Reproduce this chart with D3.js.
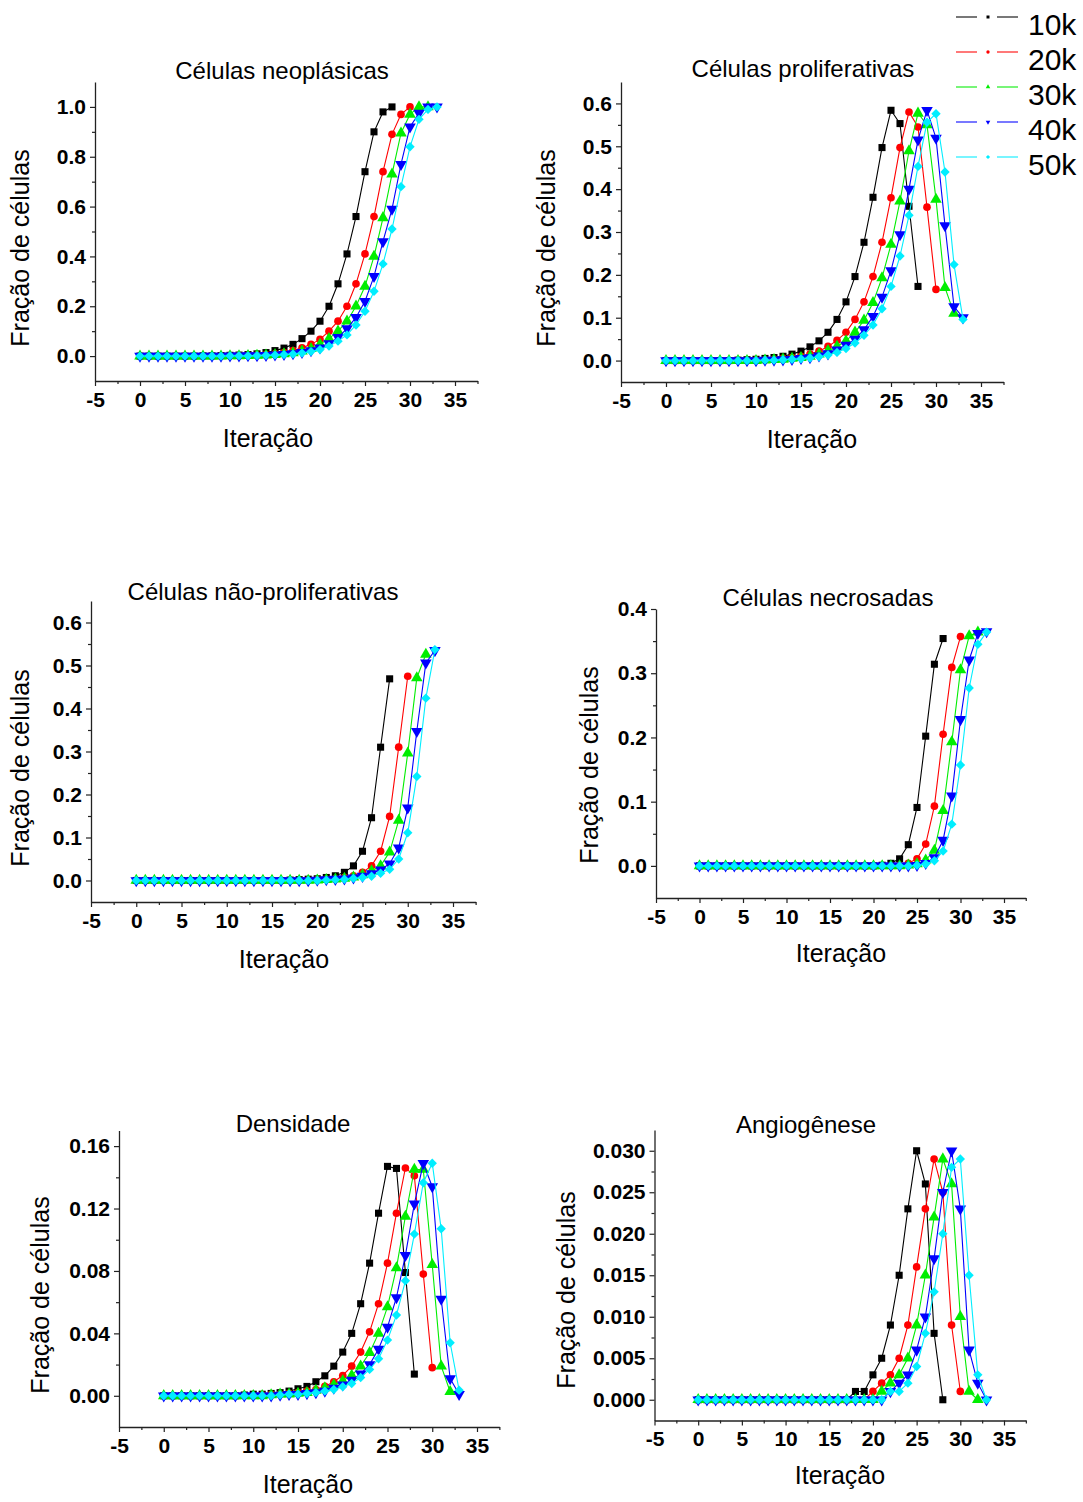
<!DOCTYPE html>
<html><head><meta charset="utf-8">
<script src="https://cdn.jsdelivr.net/npm/d3@7"></script>
<style>
body{margin:0;background:#fff}
svg{display:block}
text{font-family:"Liberation Sans",Arial,sans-serif}
</style>
</head><body>
<svg id="chart" width="1083" height="1502"></svg>
<script>
// ---------- data ----------
const seriesLabels = ["10k","20k","30k","40k","50k"];
const xTickValues = [-5,0,5,10,15,20,25,30,35];
const xMinorValues = [-2.5,2.5,7.5,12.5,17.5,22.5,27.5,32.5,37.5];

// Células neoplásicas (x = iteração 0,1,2,...)
const neo10k = [0,0,0,0,0,0,0,0.001,0.001,0.002,0.003,0.004,0.006,0.009,0.014,0.022,0.032,0.047,0.07,0.10,0.14,0.20,0.29,0.41,0.56,0.74,0.90,0.98,1.0];
const neo20k = [0,0,0,0,0,0,0,0,0,0.001,0.001,0.002,0.003,0.004,0.006,0.009,0.014,0.022,0.033,0.047,0.067,0.10,0.14,0.20,0.29,0.41,0.56,0.74,0.89,0.97,1.0];
const neo30k = [0,0,0,0,0,0,0,0,0,0,0.001,0.001,0.002,0.003,0.004,0.006,0.009,0.013,0.02,0.03,0.047,0.07,0.10,0.14,0.20,0.28,0.40,0.555,0.73,0.895,0.97,1.0,1.0];
const neo40k = [0,0,0,0,0,0,0,0,0,0,0.001,0.001,0.002,0.002,0.003,0.005,0.007,0.01,0.015,0.022,0.033,0.05,0.075,0.11,0.155,0.22,0.32,0.46,0.59,0.77,0.92,0.975,1.0,1.0];
const neo50k = [0,0,0,0,0,0,0,0,0,0,0.001,0.001,0.001,0.002,0.003,0.004,0.006,0.008,0.012,0.018,0.026,0.04,0.06,0.085,0.125,0.18,0.26,0.37,0.51,0.68,0.84,0.95,0.99,1.0];

// Células proliferativas
const pro10k = [0,0,0,0,0,0,0,0,0.001,0.002,0.003,0.005,0.007,0.010,0.015,0.022,0.032,0.046,0.066,0.096,0.137,0.196,0.276,0.381,0.497,0.584,0.553,0.36,0.173];
const pro20k = [0,0,0,0,0,0,0,0,0,0,0.001,0.002,0.003,0.005,0.007,0.010,0.015,0.022,0.033,0.047,0.066,0.096,0.137,0.196,0.276,0.38,0.497,0.58,0.545,0.358,0.166];
const pro30k = [0,0,0,0,0,0,0,0,0,0,0,0.001,0.002,0.003,0.005,0.007,0.010,0.015,0.023,0.033,0.046,0.066,0.094,0.135,0.193,0.271,0.372,0.489,0.577,0.55,0.376,0.17,0.11];
const pro40k = [0,0,0,0,0,0,0,0,0,0,0,0.001,0.001,0.002,0.003,0.005,0.007,0.011,0.016,0.025,0.036,0.05,0.072,0.103,0.148,0.21,0.294,0.40,0.515,0.584,0.519,0.315,0.126,0.10];
const pro50k = [0,0,0,0,0,0,0,0,0,0,0,0.001,0.001,0.002,0.003,0.004,0.006,0.009,0.013,0.019,0.028,0.041,0.059,0.083,0.121,0.173,0.244,0.339,0.453,0.556,0.576,0.44,0.224,0.096];

// Células não-proliferativas
const npr10k = [0,0,0,0,0,0,0,0,0,0,0,0,0,0,0,0,0,0.001,0.002,0.003,0.004,0.007,0.011,0.019,0.034,0.068,0.146,0.31,0.469];
const npr20k = [0,0,0,0,0,0,0,0,0,0,0,0,0,0,0,0,0,0,0,0.001,0.002,0.003,0.004,0.007,0.011,0.019,0.034,0.068,0.149,0.31,0.475];
const npr30k = [0,0,0,0,0,0,0,0,0,0,0,0,0,0,0,0,0,0,0,0,0.001,0.002,0.003,0.005,0.008,0.013,0.022,0.034,0.066,0.14,0.296,0.471,0.526];
const npr40k = [0,0,0,0,0,0,0,0,0,0,0,0,0,0,0,0,0,0,0,0,0.001,0.002,0.003,0.004,0.006,0.01,0.016,0.025,0.039,0.076,0.169,0.347,0.506,0.535];
const npr50k = [0,0,0,0,0,0,0,0,0,0,0,0,0,0,0,0,0,0,0,0,0,0.001,0.002,0.003,0.005,0.007,0.01,0.017,0.026,0.05,0.111,0.242,0.424,0.537];

// Células necrosadas
const nec10k = [0,0,0,0,0,0,0,0,0,0,0,0,0,0,0,0,0,0,0,0,0,0.001,0.004,0.011,0.033,0.091,0.202,0.314,0.354];
const nec20k = [0,0,0,0,0,0,0,0,0,0,0,0,0,0,0,0,0,0,0,0,0,0,0,0.001,0.004,0.011,0.034,0.093,0.205,0.309,0.357];
const nec30k = [0,0,0,0,0,0,0,0,0,0,0,0,0,0,0,0,0,0,0,0,0,0,0,0,0.001,0.003,0.009,0.024,0.086,0.193,0.305,0.358,0.364];
const nec40k = [0,0,0,0,0,0,0,0,0,0,0,0,0,0,0,0,0,0,0,0,0,0,0,0,0,0.001,0.004,0.013,0.04,0.109,0.228,0.321,0.362,0.365];
const nec50k = [0,0,0,0,0,0,0,0,0,0,0,0,0,0,0,0,0,0,0,0,0,0,0,0,0,0.001,0.003,0.008,0.023,0.065,0.157,0.277,0.345,0.364];

// Densidade
const den10k = [0,0,0,0,0,0,0,0,0,0.0005,0.001,0.001,0.0015,0.002,0.003,0.0045,0.006,0.009,0.0128,0.019,0.028,0.040,0.059,0.085,0.117,0.147,0.1457,0.079,0.0139];
const den20k = [0,0,0,0,0,0,0,0,0,0,0,0.0005,0.001,0.001,0.0015,0.002,0.003,0.004,0.006,0.009,0.013,0.019,0.028,0.041,0.059,0.085,0.117,0.146,0.141,0.078,0.018];
const den30k = [0,0,0,0,0,0,0,0,0,0,0,0,0.0005,0.001,0.001,0.0015,0.002,0.0035,0.005,0.007,0.0096,0.013,0.019,0.0276,0.040,0.057,0.082,0.115,0.145,0.145,0.084,0.019,0.0026];
const den40k = [0,0,0,0,0,0,0,0,0,0,0,0,0,0.0005,0.001,0.001,0.0015,0.002,0.003,0.005,0.007,0.010,0.014,0.020,0.030,0.044,0.063,0.090,0.123,0.149,0.134,0.062,0.011,0.001];
const den50k = [0,0,0,0,0,0,0,0,0,0,0,0,0,0.0005,0.001,0.001,0.0015,0.002,0.003,0.004,0.0058,0.0079,0.0117,0.0169,0.0237,0.0357,0.0517,0.0737,0.1036,0.1365,0.149,0.107,0.034,0.0036];

// Angiogênese
const ang10k = [0,0,0,0,0,0,0,0,0,0,0,0,0,0,0,0,0,0,0.001,0.001,0.003,0.005,0.009,0.015,0.023,0.030,0.026,0.008,0];
const ang20k = [0,0,0,0,0,0,0,0,0,0,0,0,0,0,0,0,0,0,0,0,0.001,0.002,0.003,0.005,0.009,0.016,0.023,0.029,0.025,0.009,0.001];
const ang30k = [0,0,0,0,0,0,0,0,0,0,0,0,0,0,0,0,0,0,0,0,0,0.001,0.002,0.003,0.005,0.009,0.015,0.022,0.029,0.026,0.010,0.001,0];
const ang40k = [0,0,0,0,0,0,0,0,0,0,0,0,0,0,0,0,0,0,0,0,0,0,0.001,0.002,0.003,0.006,0.010,0.017,0.025,0.030,0.023,0.006,0.002,0];
const ang50k = [0,0,0,0,0,0,0,0,0,0,0,0,0,0,0,0,0,0,0,0,0,0,0.001,0.001,0.002,0.004,0.008,0.013,0.020,0.028,0.029,0.015,0.003,0];

// y tick values per panel
const neoYTicks = [0,0.2,0.4,0.6,0.8,1.0];
const neoYMinor = [0.1,0.3,0.5,0.7,0.9];
const proYTicks = [0,0.1,0.2,0.3,0.4,0.5,0.6];
const proYMinor = [0.05,0.15,0.25,0.35,0.45,0.55];
const necYTicks = [0,0.1,0.2,0.3,0.4];
const necYMinor = [0.05,0.15,0.25,0.35];
const denYTicks = [0,0.04,0.08,0.12,0.16];
const denYMinor = [0.02,0.06,0.10,0.14];
const angYTicks = [0,0.005,0.010,0.015,0.020,0.025,0.030];
const angYMinor = [0.0025,0.0075,0.0125,0.0175,0.0225,0.0275];

// ---------- styles / layout ----------
const colors = ["#000000","#ff0000","#00ee00","#0000ff","#00eeff"];
const symbols = [d3.symbolSquare, d3.symbolCircle, d3.symbolTriangle, d3.symbolTriangle, d3.symbolSquare];
const symRot = [0,0,0,180,45];
const symSize = [50,46,58,58,44];

const panels = [
  {title:"Células neoplásicas", series:[neo10k,neo20k,neo30k,neo40k,neo50k], yt:neoYTicks, ym:neoYMinor, fmt:".1f",
   xm5:95, x35:455, yDom:[-0.1,1.1], yRng:[381,82], tX:282, tY:79, lX:28.5, lY:248, iX:268, iY:447},
  {title:"Células proliferativas", series:[pro10k,pro20k,pro30k,pro40k,pro50k], yt:proYTicks, ym:proYMinor, fmt:".1f",
   xm5:621, x35:981, yDom:[-0.05,0.65], yRng:[382,82], tX:803, tY:77, lX:554.5, lY:248, iX:812, iY:448},
  {title:"Células não-proliferativas", series:[npr10k,npr20k,npr30k,npr40k,npr50k], yt:proYTicks, ym:proYMinor, fmt:".1f",
   xm5:91, x35:453, yDom:[-0.05,0.65], yRng:[902,601], tX:263, tY:600, lX:28.5, lY:768, iX:284, iY:968},
  {title:"Células necrosadas", series:[nec10k,nec20k,nec30k,nec40k,nec50k], yt:necYTicks, ym:necYMinor, fmt:".1f",
   xm5:656, x35:1004, yDom:[-0.05,0.4], yRng:[898,609], tX:828, tY:606, lX:598, lY:765, iX:841, iY:962},
  {title:"Densidade", series:[den10k,den20k,den30k,den40k,den50k], yt:denYTicks, ym:denYMinor, fmt:".2f",
   xm5:119, x35:477, yDom:[-0.02,0.17], yRng:[1427,1130.5], tX:293, tY:1132, lX:48.5, lY:1295, iX:308, iY:1493},
  {title:"Angiogênese", series:[ang10k,ang20k,ang30k,ang40k,ang50k], yt:angYTicks, ym:angYMinor, fmt:".3f",
   xm5:654.5, x35:1004, yDom:[-0.0025,0.0325], yRng:[1420.5,1130], tX:806, tY:1133, lX:574.5, lY:1290, iX:840, iY:1484}
];

const svg = d3.select("#chart");
const axisColor = "#222";

function styleAxis(g){
  g.selectAll("path.domain").attr("stroke",axisColor).attr("stroke-width",1.3);
  g.selectAll(".tick line").attr("stroke",axisColor).attr("stroke-width",1.2);
  g.selectAll(".tick text").attr("font-family",'"Liberation Sans",Arial,sans-serif')
    .attr("font-size",21).attr("font-weight","bold").attr("fill","#000");
}

panels.forEach(p => {
  const unit = (p.x35 - p.xm5)/40;
  const x = d3.scaleLinear().domain([-5,37.5]).range([p.xm5, p.xm5 + 42.5*unit]);
  const y = d3.scaleLinear().domain(p.yDom).range(p.yRng);
  const g = svg.append("g");
  const yBottom = p.yRng[0];

  // axes
  const gx = g.append("g").attr("transform",`translate(0,${yBottom})`)
    .call(d3.axisBottom(x).tickValues(xTickValues).tickSizeInner(5).tickSizeOuter(0).tickPadding(6).tickFormat(d=>String(d)));
  styleAxis(gx);
  const gxm = g.append("g").attr("transform",`translate(0,${yBottom})`)
    .call(d3.axisBottom(x).tickValues(xMinorValues).tickSize(3).tickFormat(""));
  gxm.select("path.domain").remove(); styleAxis(gxm);

  const gy = g.append("g").attr("transform",`translate(${p.xm5},0)`)
    .call(d3.axisLeft(y).tickValues(p.yt).tickSizeInner(5).tickSizeOuter(0).tickPadding(4).tickFormat(d3.format(p.fmt)));
  styleAxis(gy);
  const gym = g.append("g").attr("transform",`translate(${p.xm5},0)`)
    .call(d3.axisLeft(y).tickValues(p.ym).tickSize(3).tickFormat(""));
  gym.select("path.domain").remove(); styleAxis(gym);

  // texts
  g.append("text").attr("x",p.tX).attr("y",p.tY).attr("text-anchor","middle")
    .attr("font-size",24).attr("fill","#000").text(p.title);
  g.append("text").attr("transform",`translate(${p.lX},${p.lY}) rotate(-90)`).attr("text-anchor","middle")
    .attr("font-size",25).attr("fill","#000").text("Fração de células");
  g.append("text").attr("x",p.iX).attr("y",p.iY).attr("text-anchor","middle")
    .attr("font-size",25).attr("fill","#000").text("Iteração");

  // series
  const line = d3.line().x((d,i)=>x(i)).y(d=>y(d));
  p.series.forEach((s,k) => {
    const sg = g.append("g");
    sg.append("path").attr("d",line(s)).attr("fill","none").attr("stroke",colors[k]).attr("stroke-width",1.1);
    sg.selectAll("path.m").data(s).join("path").attr("class","m")
      .attr("d",d3.symbol().type(symbols[k]).size(symSize[k]))
      .attr("transform",(d,i)=>`translate(${x(i)},${y(d)}) rotate(${symRot[k]})`)
      .attr("fill",colors[k]);
  });
});

// legend
const lg = svg.append("g");
seriesLabels.forEach((lab,k) => {
  const base = 34.5 + 35*k;
  const ly = base - 17.5;
  lg.append("line").attr("x1",956).attr("x2",977).attr("y1",ly).attr("y2",ly)
    .attr("stroke",colors[k]).attr("stroke-width",1.5).attr("opacity",0.7);
  lg.append("line").attr("x1",997).attr("x2",1018).attr("y1",ly).attr("y2",ly)
    .attr("stroke",colors[k]).attr("stroke-width",1.5).attr("opacity",0.7);
  lg.append("path").attr("d",d3.symbol().type(symbols[k]).size(9))
    .attr("transform",`translate(988,${ly}) rotate(${symRot[k]})`).attr("fill",colors[k]);
  lg.append("text").attr("x",1028).attr("y",base).attr("font-size",30).attr("fill","#000").text(lab);
});
</script>
</body></html>
